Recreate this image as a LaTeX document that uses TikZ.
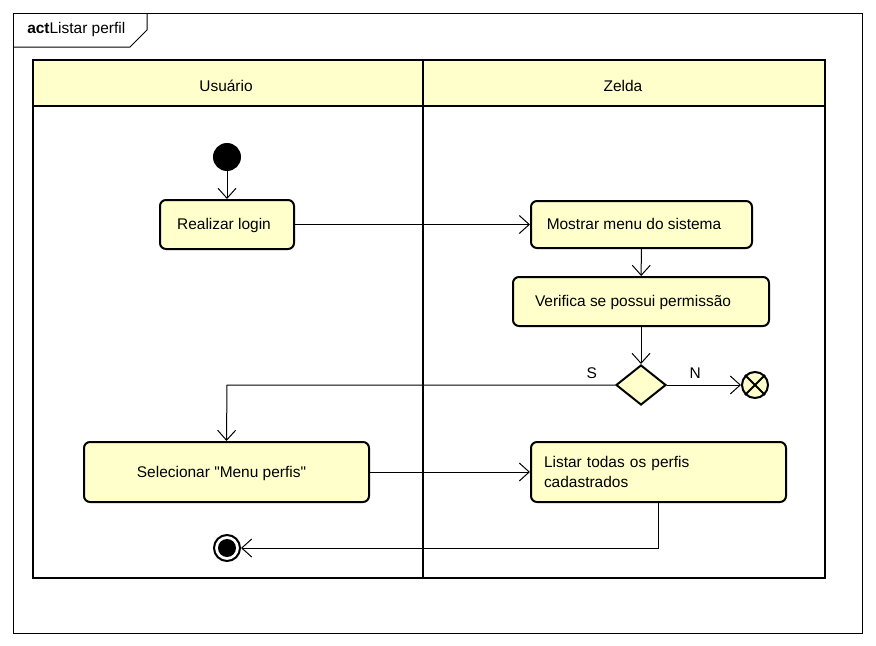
\documentclass[tikz,border=0pt]{standalone}
\usepackage{fontspec}
\setmainfont{Liberation Sans}
\usetikzlibrary{arrows.meta,shapes.geometric}
\newlength{\px}
\setlength{\px}{0.75pt}
\definecolor{umlamarelo}{rgb}{1.000000, 1.000000, 0.800000}

\begin{document}
\begin{tikzpicture}[x=1\px,y=-1\px,
  every node/.style={font=\fontsize{11.6}{15}\selectfont},
  acao/.style={draw,line width=2\px,rounded corners=6\px,fill=umlamarelo,inner sep=0pt,text depth=0.5pt},
  fluxo/.style={line width=1\px,-{Straight Barb[length=7.5pt,width=13.5pt]}},
  raia/.style={line width=2\px},
  rotulo/.style={inner sep=0pt}]
\useasboundingbox (0,0) rectangle (876,646);
% moldura
\draw[line width=1\px] (13,13) rectangle (862,633);
\draw[line width=1\px] (13,47) -- (130,47) -- (147,30) -- (147,13);
\node[anchor=west,rotulo] (titulo) at (27,30) {\textbf{act}Listar perfil};
% raias
\fill[umlamarelo] (33,60) rectangle (825,106);
\draw[raia] (33,60) rectangle (825,578);
\draw[raia] (33,106) -- (825,106);
\draw[raia] (423,60) -- (423,578);
\node (usuario) at (226,86) {Usuário};
\node (zelda) at (623,86) {Zelda};
% nos
\node[circle,fill=black,minimum size=28\px,inner sep=0pt] (inicio) at (227,157) {};
\node[acao,minimum width=134\px,minimum height=49\px] (login) at (227,224.5) {Realizar login\kern6\px};
\node[acao,minimum width=221\px,minimum height=47\px] (menu) at (641.5,224.5) {Mostrar menu do sistema\kern15\px};
\node[acao,minimum width=256\px,minimum height=49\px] (verifica) at (641,301.5) {Verifica se possui permissão\kern16\px};
\node[diamond,draw,line width=2\px,fill=umlamarelo,minimum width=50\px,minimum height=40\px,inner sep=0pt] (decisao) at (641,385) {};
\node[circle,draw,line width=2\px,fill=umlamarelo,minimum size=26\px,inner sep=0pt] (fimfluxo) at (755,385) {};
\draw[line width=2\px] (fimfluxo.45) -- (fimfluxo.225) (fimfluxo.135) -- (fimfluxo.315);
\node[acao,minimum width=285\px,minimum height=60\px] (selecionar) at (226.5,472) {Selecionar \textquotedbl Menu perfis\textquotedbl\kern10\px};
\node[acao,minimum width=255\px,minimum height=60\px,align=left,text width=229\px,text depth=] (listar) at (658.5,472) {Listar todas os perfis\\cadastrados};
\node[circle,draw,line width=2\px,fill=white,minimum size=26\px,inner sep=0pt] (fim) at (227,548) {};
\fill (fim.center) circle (9\px);
% conectores
\draw[fluxo] (inicio) -- (login);
\draw[fluxo] (login) -- (menu);
\draw[fluxo] (menu) -- (verifica);
\draw[fluxo] (verifica) -- (decisao);
\draw[fluxo] (decisao) -- node[pos=0.38,above=6\px,rotulo] {N} (fimfluxo);
\draw[fluxo] (decisao.west) -- node[pos=0.06,above=6\px,rotulo] {S} (227,385) -- (selecionar.north);
\draw[fluxo] (selecionar) -- (listar);
\draw[fluxo] (listar.south) |- (fim.east);
\end{tikzpicture}
\end{document}
